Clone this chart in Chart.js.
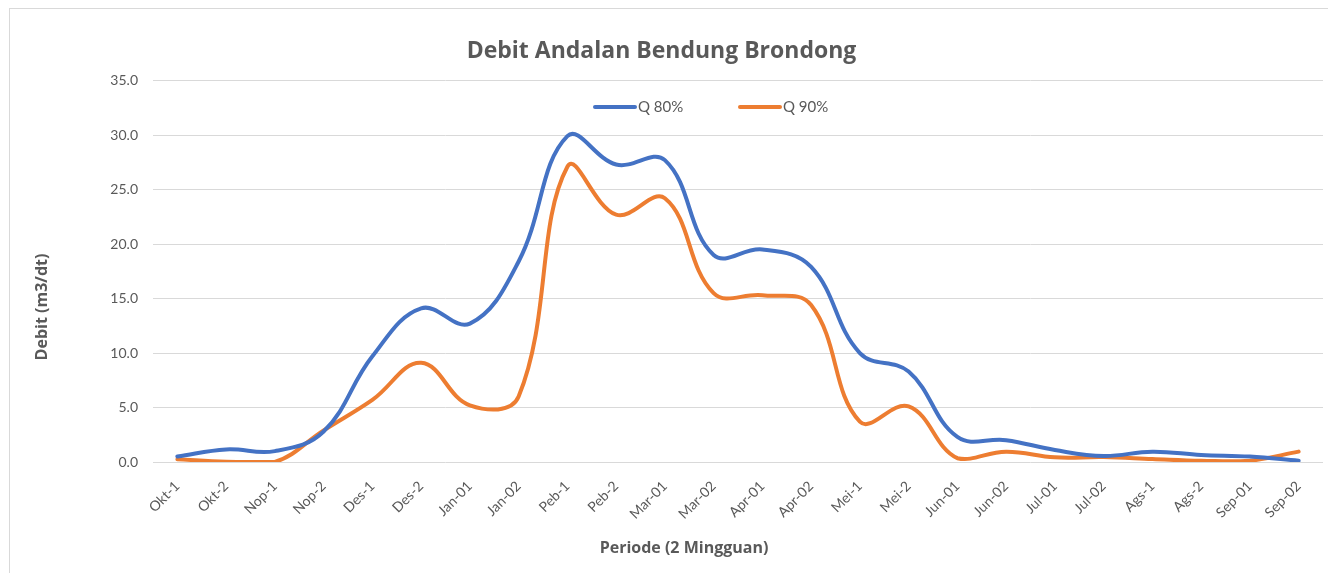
<!DOCTYPE html>
<html>
<head>
<meta charset="utf-8">
<script src="https://cdn.jsdelivr.net/npm/chart.js@4.4.1/dist/chart.umd.min.js"></script>
<style>
  html, body { margin:0; padding:0; background:#fff; }
  #wrap { position:relative; width:1328px; height:573px; overflow:hidden; }
  #frame { position:absolute; left:9px; top:8px; width:1340px; height:600px; border:1.5px solid #d9d9d9; box-sizing:border-box; }
  canvas { position:absolute; left:0; top:0; }
</style>
</head>
<body>
<div id="wrap">
  <div id="frame"></div>
  <canvas id="chart" width="1328" height="573"></canvas>
</div>
<script>
// Periode 2 mingguan
const periods = ['Okt-1','Okt-2','Nop-1','Nop-2','Des-1','Des-2','Jan-01','Jan-02',
  'Peb-1','Peb-2','Mar-01','Mar-02','Apr-01','Apr-02','Mei-1','Mei-2',
  'Jun-01','Jun-02','Jul-01','Jul-02','Ags-1','Ags-2','Sep-01','Sep-02'];

// Debit andalan (m3/dt)
const q80 = [0.5, 1.15, 1.0, 2.8, 9.7, 14.1, 12.7, 18.4,
  29.9, 27.3, 27.7, 19.0, 19.5, 17.9, 10.0, 8.3,
  2.3, 2.0, 1.1, 0.55, 0.95, 0.65, 0.5, 0.12];
const q90 = [0.25, 0.03, 0.0, 2.9, 5.7, 9.1, 5.2, 6.0,
  27.1, 22.7, 24.2, 15.5, 15.3, 14.4, 3.7, 5.1,
  0.35, 0.95, 0.43, 0.45, 0.28, 0.12, 0.12, 0.95];

const yTicks = [0, 5, 10, 15, 20, 25, 30, 35];

const GREY = '#595959';
const FONT = 'Lato, "Open Sans", sans-serif';
const BOLD = '"Open Sans", Lato, sans-serif';

// judul sumbu + legenda digambar manual (posisi ala Excel)
const extras = {
  id: 'extras',
  afterDraw(chart) {
    const ctx = chart.ctx;
    ctx.save();
    ctx.fillStyle = GREY;
    ctx.font = 'bold 16px ' + BOLD;
    ctx.textAlign = 'center';
    ctx.textBaseline = 'middle';
    ctx.fillText('Periode (2 Mingguan)', 684, 548);
    ctx.translate(42, 307);
    ctx.rotate(-Math.PI / 2);
    ctx.fillText('Debit (m3/dt)', 0, 0);
    ctx.restore();

    // legenda
    ctx.save();
    ctx.font = '15px ' + FONT;
    ctx.textBaseline = 'middle';
    ctx.textAlign = 'left';
    const items = [[595, 0], [740, 1]];
    items.forEach(([x, i]) => {
      const ds = chart.data.datasets[i];
      ctx.strokeStyle = ds.borderColor;
      ctx.lineWidth = 4;
      ctx.lineCap = 'round';
      ctx.beginPath();
      ctx.moveTo(x, 107);
      ctx.lineTo(x + 40, 107);
      ctx.stroke();
      ctx.fillStyle = GREY;
      ctx.fillText(ds.label, x + 43, 107);
    });
    ctx.restore();
  }
};

new Chart(document.getElementById('chart'), {
  type: 'line',
  data: {
    labels: periods,
    datasets: [
      { label: 'Q 80%', data: q80, borderColor: '#4472C4', backgroundColor: '#4472C4',
        borderWidth: 4, pointRadius: 0, tension: 0.4, borderCapStyle: 'round' },
      { label: 'Q 90%', data: q90, borderColor: '#ED7D31', backgroundColor: '#ED7D31',
        borderWidth: 4, pointRadius: 0, tension: 0.4, borderCapStyle: 'round' }
    ]
  },
  options: {
    responsive: false,
    animation: false,
    layout: { padding: { left: 0, right: 5, top: 0, bottom: 0 } },
    plugins: {
      legend: { display: false },
      tooltip: { enabled: false },
      title: {
        display: true,
        text: 'Debit Andalan Bendung Brondong',
        color: GREY,
        font: { family: BOLD, size: 23, weight: 'bold', lineHeight: 1.2 },
        padding: { top: 38, bottom: 15 }
      }
    },
    scales: {
      x: {
        offset: true,
        grid: { display: false, drawTicks: false },
        border: { display: false },
        ticks: {
          color: GREY, font: { family: FONT, size: 14 },
          minRotation: 45, maxRotation: 45, autoSkip: false, padding: 16
        },
        afterFit(scale) { scale.height = 111; }
      },
      y: {
        min: 0, max: 35,
        afterBuildTicks(scale) { scale.ticks = yTicks.map(v => ({ value: v })); },
        grid: { color: '#d9d9d9', lineWidth: 1, drawTicks: false },
        border: { display: false },
        ticks: {
          color: GREY, font: { family: FONT, size: 14 }, padding: 15,
          callback: v => v.toFixed(1)
        },
        afterFit(scale) { scale.width = 153; }
      }
    }
  },
  plugins: [extras]
});
</script>
</body>
</html>
